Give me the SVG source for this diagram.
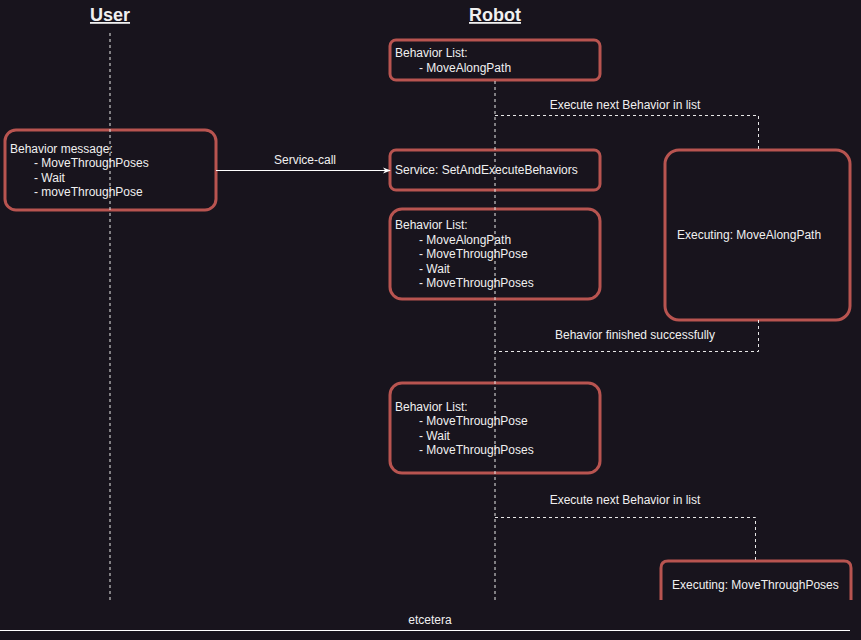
<svg xmlns="http://www.w3.org/2000/svg" width="861" height="640" viewBox="0 0 861 640">
<style>
text{font-family:"Liberation Sans",Arial,sans-serif;font-size:12px;fill:#f0f0f0}
.title{font-size:18px;font-weight:bold;text-decoration:underline;text-anchor:middle}
.box{fill:none;stroke:#b85450;stroke-width:3}
.life{stroke:#e8e8e8;stroke-width:1;stroke-dasharray:3 3;fill:none}
.dash{stroke:#e8e8e8;stroke-width:1;stroke-dasharray:3 3;fill:none}
.mid{text-anchor:middle}
</style>
<defs>
<marker id="arr" viewBox="0 0 10 10" refX="9" refY="5" markerWidth="8" markerHeight="8" markerUnits="userSpaceOnUse" orient="auto">
<path d="M0,1 L10,5 L0,9 L3,5 Z" fill="#ffffff"/>
</marker>
</defs>
<rect width="861" height="640" fill="#18141d"/>
<g id="user-title"><text class="title" x="110" y="21">User</text></g>
<g id="robot-title"><text class="title" x="495" y="21">Robot</text></g>

<g id="behavior-message">
<rect class="box" x="5" y="130" width="211" height="80" rx="11"/>
<text x="10" y="153">Behavior message:</text>
<text x="34" y="167">- MoveThroughPoses</text>
<text x="34" y="182">- Wait</text>
<text x="34" y="196">- moveThroughPose</text>
</g>
<g id="list1">
<rect class="box" x="390" y="40" width="210" height="40" rx="6"/>
<text x="395" y="57">Behavior List:</text>
<text x="419" y="72">- MoveAlongPath</text>
</g>
<g id="service">
<rect class="box" x="390" y="150" width="210" height="40" rx="6"/>
<text x="395" y="174">Service: SetAndExecuteBehaviors</text>
</g>
<g id="list2">
<rect class="box" x="390" y="209" width="210" height="90" rx="12"/>
<text x="395" y="229">Behavior List:</text>
<text x="419" y="244">- MoveAlongPath</text>
<text x="419" y="258">- MoveThroughPose</text>
<text x="419" y="273">- Wait</text>
<text x="419" y="287">- MoveThroughPoses</text>
</g>
<g id="exec1">
<rect class="box" x="665" y="150" width="185" height="170" rx="14"/>
<text x="677" y="239">Executing: MoveAlongPath</text>
</g>
<g id="list3">
<rect class="box" x="390" y="383" width="210" height="90" rx="12"/>
<text x="395" y="411">Behavior List:</text>
<text x="419" y="425">- MoveThroughPose</text>
<text x="419" y="440">- Wait</text>
<text x="419" y="454">- MoveThroughPoses</text>
</g>
<g id="exec2">
<path class="box" d="M661,600 V568 Q661,561 668,561 H844 Q851,561 851,568 V600"/>
<text x="672" y="589">Executing: MoveThroughPoses</text>
</g>

<g id="connectors">
<line class="life" x1="110" y1="33" x2="110" y2="600"/>
<line class="life" x1="495" y1="81" x2="495" y2="600"/>
<line x1="216" y1="170.5" x2="390" y2="170.5" stroke="#ffffff" stroke-width="1" marker-end="url(#arr)"/>
<text class="mid" x="305" y="164">Service-call</text>
<polyline class="dash" points="495,115.5 758.5,115.5 758.5,150"/>
<text class="mid" x="625" y="109">Execute next Behavior in list</text>
<polyline class="dash" points="758.5,320 758.5,351.5 495,351.5"/>
<text class="mid" x="635" y="339">Behavior finished successfully</text>
<polyline class="dash" points="495,517.5 755.5,517.5 755.5,560"/>
<text class="mid" x="625" y="504">Execute next Behavior in list</text>
<line x1="0" y1="630.5" x2="850" y2="630.5" stroke="#ffffff" stroke-width="1"/>
<text class="mid" x="430" y="624">etcetera</text>
</g>
</svg>
